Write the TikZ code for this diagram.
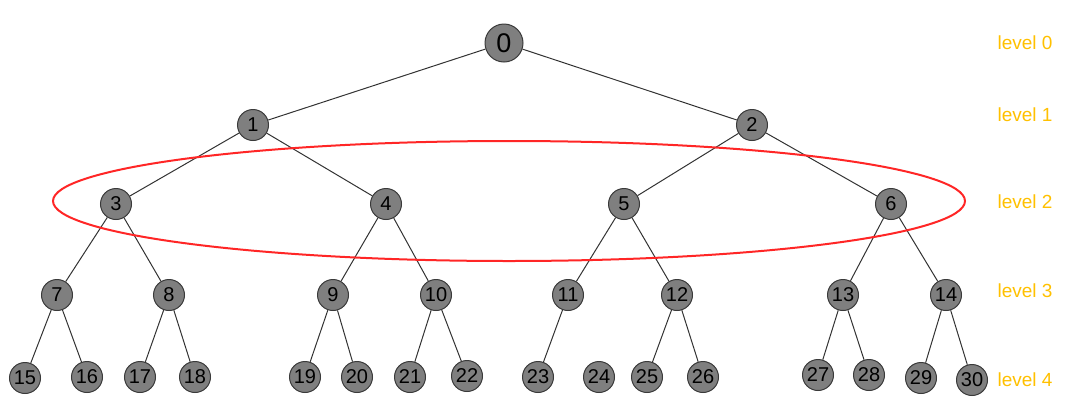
\documentclass[tikz,border=0pt]{standalone}
\usepackage{fontspec}
\setmainfont{Liberation Sans}
\definecolor{lvlc}{HTML}{FFC000}
\definecolor{nodefill}{HTML}{7F7F7F}
\definecolor{nodedraw}{HTML}{3A3A3A}
\begin{document}
\begin{tikzpicture}[x=1pt,y=-1pt,
  tn/.style={circle,draw=nodedraw,fill=nodefill,line width=1pt,minimum size=31pt,inner sep=0pt,font=\fontsize{20}{20}\selectfont},
  rootn/.style={tn,minimum size=38pt,font=\fontsize{27}{27}\selectfont},
  ed/.style={draw=black!80,line width=1pt},
  lvl/.style={text=lvlc,font=\fontsize{19}{19}\selectfont,anchor=west}]
\useasboundingbox (0,0) rectangle (1080,416);
\node[rootn] (n0) at (504,43) {0};
\node[tn] (n1) at (253,125) {1};
\node[tn] (n2) at (752,125) {2};
\node[tn] (n3) at (116,204) {3};
\node[tn] (n4) at (386,204) {4};
\node[tn] (n5) at (624,204) {5};
\node[tn] (n6) at (891,204) {6};
\node[tn] (n7) at (57,295) {7};
\node[tn] (n8) at (169,295) {8};
\node[tn] (n9) at (333,295) {9};
\node[tn] (n10) at (436,295) {10};
\node[tn] (n11) at (568,295) {11};
\node[tn] (n12) at (677,295) {12};
\node[tn] (n13) at (843,295) {13};
\node[tn] (n14) at (946,295) {14};
\node[tn] (n15) at (25,378) {15};
\node[tn] (n16) at (87,377) {16};
\node[tn] (n17) at (140,377) {17};
\node[tn] (n18) at (195,377) {18};
\node[tn] (n19) at (305,377) {19};
\node[tn] (n20) at (357,377) {20};
\node[tn] (n21) at (410,377) {21};
\node[tn] (n22) at (467,376) {22};
\node[tn] (n23) at (538,377) {23};
\node[tn] (n24) at (599,377) {24};
\node[tn] (n25) at (647,377) {25};
\node[tn] (n26) at (703,377) {26};
\node[tn] (n27) at (818,375) {27};
\node[tn] (n28) at (869,375) {28};
\node[tn] (n29) at (921,378) {29};
\node[tn] (n30) at (972,380) {30};
\foreach \a/\b in {0/1,0/2,1/3,1/4,2/5,2/6,3/7,3/8,4/9,4/10,5/11,5/12,6/13,6/14,
  7/15,7/16,8/17,8/18,9/19,9/20,10/21,10/22,11/23,12/25,12/26,13/27,13/28,14/29,14/30}
  \draw[ed] (n\a) -- (n\b);
\draw[red!85!white,line width=2pt] (509,201) ellipse [x radius=456, y radius=60];
\foreach \i/\y in {0/43,1/115,2/202,3/291,4/380}
  \node[lvl] (l\i) at (994,\y) {level \i};
\end{tikzpicture}
\end{document}
